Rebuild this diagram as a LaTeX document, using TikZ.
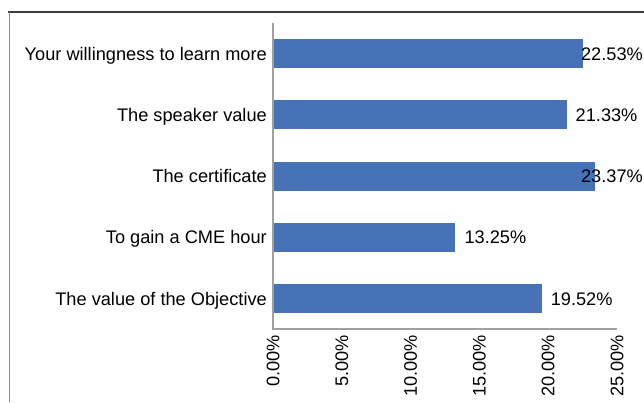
\documentclass[tikz,border=0pt]{standalone}
\usepackage{fontspec}
\setmainfont{Liberation Sans}
\definecolor{barblue}{RGB}{70,114,184}
\definecolor{axisgray}{RGB}{160,160,160}
\definecolor{framedark}{RGB}{60,60,60}
\definecolor{frameleft}{RGB}{140,140,140}
\begin{document}
\begin{tikzpicture}[x=1pt,y=-1pt,
  lbl/.style={inner sep=0pt,font=\fontsize{18.2}{20}\selectfont},
  catlbl/.style={lbl,anchor=base east},
  vallbl/.style={lbl,anchor=base west},
  vallblr/.style={lbl,anchor=base east},
  ticklbl/.style={lbl,rotate=90,anchor=east},
  bar/.style={fill=barblue,draw=none}]
\useasboundingbox (0,0) rectangle (644,402);
% frame
\draw[framedark,line width=1.2pt] (8,12) -- (644,12);
\draw[frameleft,line width=1.6pt] (9.5,12) -- (9.5,402);
% bars (scale: 13.76 px per percent, origin 273)
\def\ox{273}
\def\sc{13.76}
\fill[bar] (\ox,39)  rectangle ({\ox+22.53*\sc},68);
\fill[bar] (\ox,100) rectangle ({\ox+21.33*\sc},129);
\fill[bar] (\ox,162) rectangle ({\ox+23.37*\sc},191);
\fill[bar] (\ox,223) rectangle ({\ox+13.25*\sc},252);
\fill[bar] (\ox,284) rectangle ({\ox+19.52*\sc},313);
% axes
\coordinate (ytop) at (\ox,23);
\coordinate (orig) at (\ox,329);
\coordinate (xend) at ({\ox+25*\sc},329);
\draw[axisgray,line width=1.2pt] (ytop) -- (orig) -- (xend);
% category labels
\node[catlbl] (c1) at (267,60)    {Your willingness to learn more};
\node[catlbl] (c2) at (267,121.2) {The speaker value};
\node[catlbl] (c3) at (267,182.5) {The certificate};
\node[catlbl] (c4) at (267,243.5) {To gain a CME hour};
\node[catlbl] (c5) at (267,305)   {The value of the Objective};
% value labels
\node[vallblr] (v1) at (643,60)    {22.53\%};
\node[vallbl]  (v2) at ({\ox+21.33*\sc+9},121.2) {21.33\%};
\node[vallblr] (v3) at (643,182.5) {23.37\%};
\node[vallbl]  (v4) at ({\ox+13.25*\sc+9},243.5) {13.25\%};
\node[vallbl]  (v5) at ({\ox+19.52*\sc+9},305)   {19.52\%};
% tick labels
\node[ticklbl] (t0) at ({\ox+0*\sc},335)  {0.00\%};
\node[ticklbl] (t1) at ({\ox+5*\sc},335)  {5.00\%};
\node[ticklbl] (t2) at ({\ox+10*\sc},335) {10.00\%};
\node[ticklbl] (t3) at ({\ox+15*\sc},335) {15.00\%};
\node[ticklbl] (t4) at ({\ox+20*\sc},335) {20.00\%};
\node[ticklbl] (t5) at ({\ox+25*\sc},335) {25.00\%};
\end{tikzpicture}
\end{document}
